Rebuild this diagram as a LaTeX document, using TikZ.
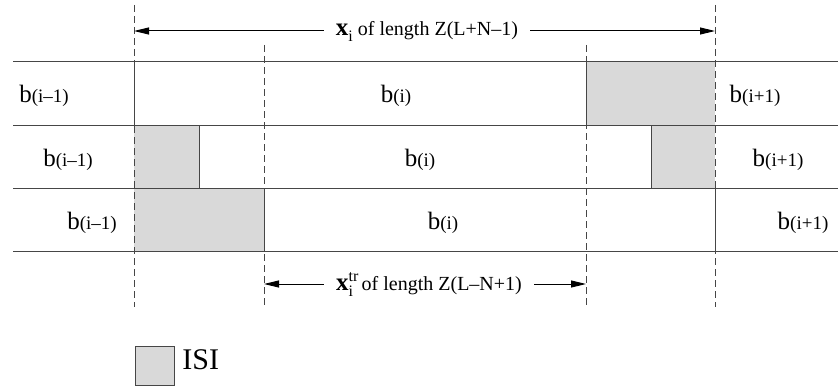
\documentclass[tikz,border=0pt]{standalone}
\usepackage{fontspec}
\setmainfont{Liberation Serif}
\definecolor{isigray}{RGB}{217,217,217}
\definecolor{linegray}{RGB}{70,70,70}
\usetikzlibrary{arrows.meta}

\newcommand{\blab}[1]{b{\fontsize{9.5}{10}\selectfont(#1)}}
\newcommand{\vecx}{{\fontsize{12.5}{14}\selectfont\bfseries x}}
\newcommand{\smallidx}[1]{{\fontsize{8}{9}\selectfont #1}}

\begin{document}
\begin{tikzpicture}[x=0.5pt,y=-0.5pt,
          isi/.style={fill=isigray},
          solid line/.style={draw=linegray, line width=0.5pt},
          guide/.style={draw=linegray, line width=0.5pt, dash pattern=on 3.5pt off 2pt},
          lbl/.style={anchor=base, inner sep=0pt, font=\fontsize{12.5}{14}\selectfont},
          dim/.style={inner sep=6pt, font=\fontsize{10}{12}\selectfont},
          arr/.style={-{Triangle[length=7.5pt, width=3.5pt]}, black, line width=0.5pt}
        ]
        \useasboundingbox (0,0) rectangle (838,390);

        % ISI parts
        \fill[isi] (586,62) rectangle (715,125);
        \fill[isi] (134,125) rectangle (199,188);
        \fill[isi] (651,125) rectangle (715,188);
        \fill[isi] (134,188) rectangle (264,251);

        % rows
        \foreach \y in {62,125,188,251}
          \draw[solid line] (13,\y) -- (838,\y);
        \draw[solid line] (134,62) -- (134,125);
        \draw[solid line] (586,62) -- (586,125);
        \draw[solid line] (199,125) -- (199,188);
        \draw[solid line] (651,125) -- (651,188);
        \draw[solid line] (264,188) -- (264,251);
        \draw[solid line] (715,188) -- (715,251);

        % dashed guides
        \coordinate (g1t) at (134,5);   \coordinate (g1b) at (134,307);
        \coordinate (g2t) at (264,45);  \coordinate (g2b) at (264,307);
        \coordinate (g3t) at (586,45);  \coordinate (g3b) at (586,307);
        \coordinate (g4t) at (715,5);   \coordinate (g4b) at (715,307);
        \draw[guide] (g1t) -- (g1b);
        \draw[guide] (g2t) -- (g2b);
        \draw[guide] (g3t) -- (g3b);
        \draw[guide] (g4t) -- (g4b);

        % block labels
        \node[lbl] (r1a) at (44,103) {\blab{i–1}};
        \node[lbl] (r1b) at (396,103) {\blab{i}};
        \node[lbl] (r1c) at (755,103) {\blab{i+1}};
        \node[lbl] (r2a) at (68,166) {\blab{i–1}};
        \node[lbl] (r2b) at (420,166) {\blab{i}};
        \node[lbl] (r2c) at (778,166) {\blab{i+1}};
        \node[lbl] (r3a) at (92,229) {\blab{i–1}};
        \node[lbl] (r3b) at (443,229) {\blab{i}};
        \node[lbl] (r3c) at (803,229) {\blab{i+1}};

        % lengths
        \node[dim] (xlen) at (427,31) {\vecx\raisebox{-3pt}{\smallidx{i}}\ of length Z(L+N–1)};
        \coordinate (xl) at (134,31);
        \coordinate (xr) at (715,31);
        \draw[arr] (xlen.west) -- (xl);
        \draw[arr] (xlen.east) -- (xr);

        \node[dim] (trlen) at (429,284) {\vecx\rlap{\raisebox{-3pt}{\smallidx{i}}}\raisebox{4.5pt}{\smallidx{tr}}\,of length Z(L–N+1)};
        \coordinate (tl) at (264,284);
        \coordinate (tr) at (586,284);
        \draw[arr] (trlen.west) -- (tl);
        \draw[arr] (trlen.east) -- (tr);

        % legend
        \node[isi, draw=linegray, line width=0.5pt, minimum size=19.5pt, inner sep=0pt] (key) at (154.5,366) {};
        \node[anchor=base west, inner sep=0pt, font=\fontsize{15}{18}\selectfont] (keylab) at (182,369) {ISI};
\end{tikzpicture}
\end{document}
